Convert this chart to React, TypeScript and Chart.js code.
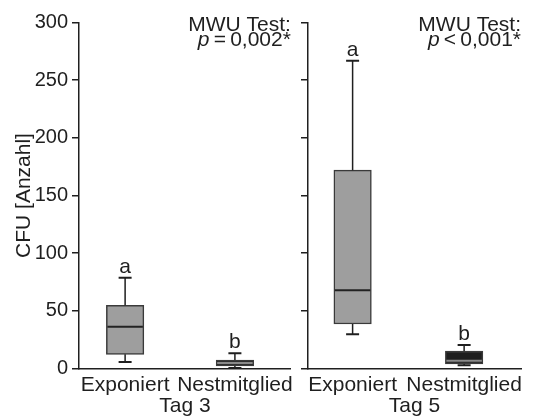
import React, { useEffect, useRef } from "react";
import { Chart, registerables } from "chart.js";

Chart.register(...registerables);

const FONT = "'Liberation Sans', Arial, Helvetica, sans-serif";
const INK = "#1f1f1f";

// ---- data ----
const categories = ["Exponiert", "Nestmitglied"];
const dayLabels = ["Tag 3", "Tag 5"];
const yTickValues = [0, 50, 100, 150, 200, 250, 300];
const yAxisTitle = "CFU [Anzahl]";

const tag3Min = [5.6, 0.5];
const tag3Q1 = [12.3, 2.2];
const tag3Median = [36.2, 4.8];
const tag3Q3 = [54.8, 7.4];
const tag3Max = [78.7, 13.2];

const tag5Min = [29.7, 2.8];
const tag5Q1 = [38.6, 3.9];
const tag5Median = [67.8, 6.8];
const tag5Q3 = [172, 15.2];
const tag5Max = [266.9, 20.4];

const groupLetters = ["a", "b"];
const testTitle = "MWU Test:";
const pOperators = ["=", "<"];
const pValues = ["0,002*", "0,001*"];

const boxFills = ["#9e9e9e", "#1e1e1e"];
const medianColors = ["#222222", "#8a8a8a"];

type Stats = { min: number[]; q1: number[]; med: number[]; q3: number[]; max: number[] };

const panelStats: Stats[] = [
  { min: tag3Min, q1: tag3Q1, med: tag3Median, q3: tag3Q3, max: tag3Max },
  { min: tag5Min, q1: tag5Q1, med: tag5Median, q3: tag5Q3, max: tag5Max },
];

const BOX_W = 37.5;

function makePlugin(stats: Stats, panel: number) {
  return {
    id: "boxWhiskers" + panel,
    afterDatasetsDraw(chart: any) {
      const ctx = chart.ctx as CanvasRenderingContext2D;
      const xs = chart.scales.x;
      const ys = chart.scales.y;
      ctx.save();
      categories.forEach((_, i) => {
        const cx = xs.getPixelForValue(i + 1);
        const yMin = ys.getPixelForValue(stats.min[i]);
        const yQ1 = ys.getPixelForValue(stats.q1[i]);
        const yMed = ys.getPixelForValue(stats.med[i]);
        const yQ3 = ys.getPixelForValue(stats.q3[i]);
        const yMax = ys.getPixelForValue(stats.max[i]);
        ctx.strokeStyle = INK;
        ctx.lineWidth = 1.5;
        ctx.beginPath();
        ctx.moveTo(cx, yQ3);
        ctx.lineTo(cx, yMax);
        ctx.moveTo(cx, yQ1);
        ctx.lineTo(cx, yMin);
        ctx.stroke();
        ctx.lineWidth = 2;
        ctx.beginPath();
        ctx.moveTo(cx - 6.5, yMax);
        ctx.lineTo(cx + 6.5, yMax);
        ctx.moveTo(cx - 6.5, yMin);
        ctx.lineTo(cx + 6.5, yMin);
        ctx.stroke();
        ctx.strokeStyle = medianColors[i];
        ctx.lineWidth = 2;
        ctx.beginPath();
        ctx.moveTo(cx - BOX_W / 2 + 1, yMed);
        ctx.lineTo(cx + BOX_W / 2 - 1, yMed);
        ctx.stroke();
        ctx.fillStyle = INK;
        ctx.font = `21px ${FONT}`;
        ctx.textAlign = "center";
        ctx.textBaseline = "alphabetic";
        ctx.fillText(groupLetters[i], cx, yMax - 5);
      });
      // annotation
      const right = chart.chartArea.right;
      ctx.fillStyle = INK;
      ctx.textBaseline = "alphabetic";
      ctx.textAlign = "right";
      ctx.font = `21px ${FONT}`;
      ctx.fillText(testTitle, right, 31);
      const rest = "\u2009" + pOperators[panel] + "\u2009" + pValues[panel];
      const restW = ctx.measureText(rest).width;
      ctx.fillText(rest, right, 46);
      ctx.font = `italic 21px ${FONT}`;
      ctx.fillText("p", right - restW, 46);
      ctx.restore();
    },
  };
}

type PanelProps = {
  panel: number;
  left: number;
  width: number;
  yAxisWidth: number;
  rightPad: number;
  xMin: number;
  xMax: number;
  showYLabels: boolean;
};

function Panel(props: PanelProps) {
  const ref = useRef<HTMLCanvasElement | null>(null);
  useEffect(() => {
    const canvas = ref.current;
    if (!canvas) return;
    const stats = panelStats[props.panel];
    const chart = new Chart(canvas, {
      type: "bar",
      data: {
        datasets: [
          {
            data: categories.map((_, i) => ({ x: i + 1, y: [stats.q1[i], stats.q3[i]] })) as any,
            backgroundColor: boxFills,
            borderColor: "#3a3a3a",
            borderWidth: 1.5,
            borderSkipped: false,
            barThickness: BOX_W,
          },
        ],
      },
      options: {
        animation: false,
        responsive: false,
        layout: { padding: { top: 22.5, right: props.rightPad, left: 0, bottom: 0 } },
        plugins: { legend: { display: false }, tooltip: { enabled: false } },
        scales: {
          x: {
            type: "linear",
            min: props.xMin,
            max: props.xMax,
            offset: false,
            bounds: "data",
            grid: { display: false, drawTicks: false, offset: false },
            border: { display: true, color: INK, width: 1.5 },
            afterBuildTicks: (s: any) => {
              s.ticks = categories.map((_, i) => ({ value: i + 1 }));
            },
            ticks: {
              callback: (v: any) => categories[Math.round(Number(v)) - 1] ?? "",
              font: { family: FONT, size: 21 },
              color: INK,
              padding: 4,
              maxRotation: 0,
              autoSkip: false,
            },
            title: {
              display: true,
              text: dayLabels[props.panel],
              font: { family: FONT, size: 21, lineHeight: 1 },
              color: INK,
              padding: { top: 0, bottom: 0 },
            },
            afterFit: (s: any) => {
              s.height = 48.5;
            },
          } as any,
          y: {
            type: "linear",
            min: 0,
            max: 300,
            afterBuildTicks: (s: any) => {
              s.ticks = yTickValues.map((v) => ({ value: v }));
            },
            grid: {
              display: true,
              drawOnChartArea: false,
              drawTicks: true,
              tickLength: 7,
              color: INK,
              lineWidth: 1.5,
            },
            border: { display: true, color: INK, width: 1.5 },
            ticks: {
              display: props.showYLabels,
              font: { family: FONT, size: 20 },
              color: INK,
              padding: 4,
            },
            title: {
              display: props.showYLabels,
              text: yAxisTitle,
              font: { family: FONT, size: 21 },
              color: INK,
              padding: { top: 12, bottom: 0 },
            },
            afterFit: (s: any) => {
              s.width = props.yAxisWidth;
            },
          } as any,
        },
      },
      plugins: [makePlugin(stats, props.panel)],
    });
    return () => chart.destroy();
  }, []);
  return (
    <canvas
      ref={ref}
      width={props.width}
      height={417}
      style={{ position: "absolute", left: props.left, top: 0, width: props.width, height: 417 }}
    />
  );
}

export default function App() {
  return (
    <div style={{ position: "absolute", left: 0, top: 0, width: 534, height: 417, background: "#fff" }}>
      <Panel panel={0} left={0} width={298} yAxisWidth={79} rightPad={5} xMin={0.58} xMax={2.51} showYLabels={true} />
      <Panel panel={1} left={298} width={236} yAxisWidth={10} rightPad={13} xMin={0.6} xMax={2.51} showYLabels={false} />
    </div>
  );
}
